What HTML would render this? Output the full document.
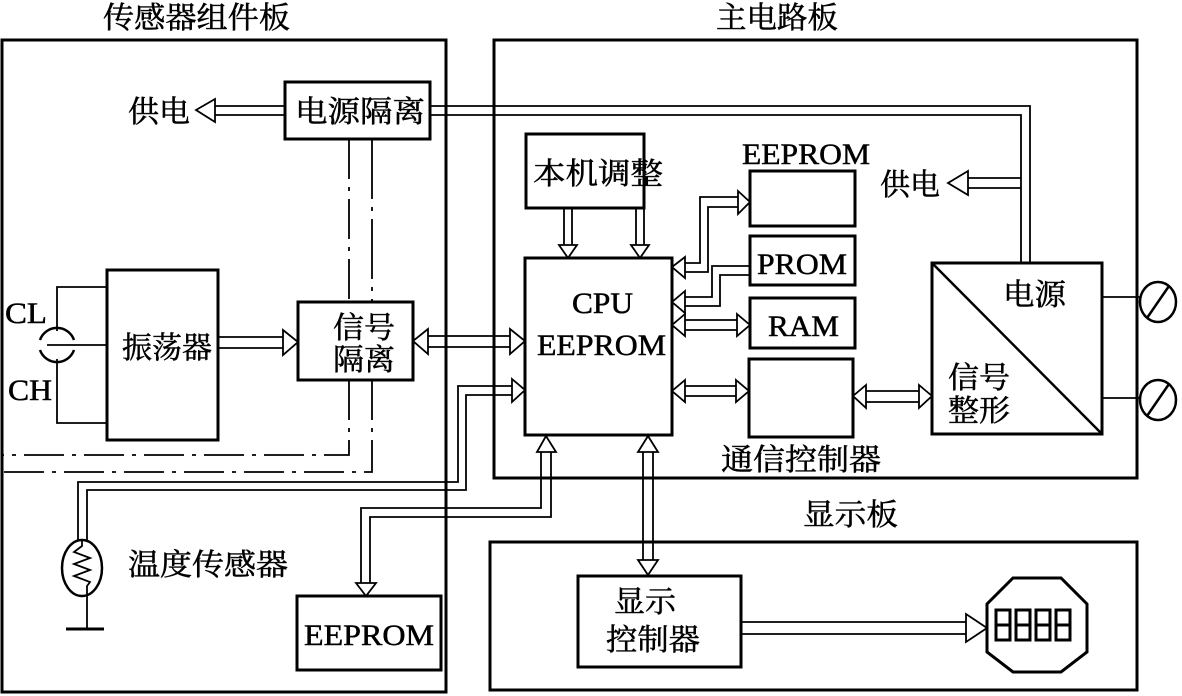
<!DOCTYPE html>
<html><head><meta charset="utf-8"><style>
html,body{margin:0;padding:0;background:#fff;}
svg{display:block;}
text{font-family:"Liberation Serif","Noto Serif CJK SC",serif;fill:#000;stroke:#000;stroke-width:0.5;}
</style></head><body>
<svg width="1182" height="696" viewBox="0 0 1182 696" xmlns="http://www.w3.org/2000/svg">
<g fill="none" stroke="#000">
<!-- panels -->
<rect x="2" y="40" width="444" height="652" stroke-width="3"/>
<rect x="494" y="40" width="643" height="438" stroke-width="3"/>
<rect x="490" y="542" width="647" height="148" stroke-width="3"/>
<g stroke-width="1.8">
<!-- dash-dot lines -->
<line x1="349" y1="139" x2="349" y2="302" stroke-dasharray="40,8,4,8"/>
<line x1="372" y1="139" x2="372" y2="302" stroke-dasharray="60,8,4,8"/>
<polyline points="349,380 349,455 2,455" stroke-dasharray="40,8,4,8"/>
<polyline points="372,380 372,472 2,472" stroke-dasharray="40,8,4,8"/>
</g>
<!-- boxes -->
<g fill="#fff">
<rect x="285" y="82" width="145" height="57" stroke-width="3"/>
<rect x="107" y="270" width="111" height="170" stroke-width="3"/>
<rect x="298" y="302" width="115" height="78" stroke-width="3"/>
<rect x="525" y="258" width="147" height="177" stroke-width="3"/>
<rect x="526" y="134" width="118" height="74" stroke-width="3"/>
<rect x="750" y="171" width="105" height="55" stroke-width="3"/>
<rect x="750" y="236" width="105" height="49" stroke-width="3"/>
<rect x="750" y="298" width="105" height="50" stroke-width="3"/>
<rect x="749" y="359" width="104" height="78" stroke-width="3"/>
<rect x="932" y="263" width="170" height="171" stroke-width="3"/>
<rect x="297" y="596" width="144" height="74" stroke-width="3"/>
<rect x="578" y="576" width="163" height="91" stroke-width="3"/>
</g>
<line x1="932" y1="263" x2="1102" y2="434" stroke-width="2.5"/>
<polygon points="1013,578 1061,578 1087,604 1087,652 1061,672 1013,672 987,652 987,604" stroke-width="3"/>
<g stroke-width="3">
<rect x="996" y="610" width="14" height="30"/><line x1="996" y1="625" x2="1010" y2="625"/>
<rect x="1016" y="610" width="14" height="30"/><line x1="1016" y1="625" x2="1030" y2="625"/>
<rect x="1036" y="610" width="14" height="30"/><line x1="1036" y1="625" x2="1050" y2="625"/>
<rect x="1056" y="610" width="14" height="30"/><line x1="1056" y1="625" x2="1070" y2="625"/>
</g>
<g stroke-width="1.8">
<line x1="285" y1="106" x2="215" y2="106"/><line x1="285" y1="115" x2="215" y2="115"/>
<polygon points="215,99 196,110 215,122" fill="#fff"/>
<polyline points="430,106 1030,106 1030,263"/>
<polyline points="430,115 1021,115 1021,263"/>
<line x1="1021" y1="178" x2="968" y2="178"/><line x1="1021" y1="188" x2="968" y2="188"/>
<polygon points="968,171 948,183 968,195" fill="#fff"/>
<line x1="218" y1="337" x2="283" y2="337"/><line x1="218" y1="348" x2="283" y2="348"/>
<polygon points="283,330 298,342 283,355" fill="#fff"/>
<line x1="428" y1="336" x2="510" y2="336"/><line x1="428" y1="347" x2="510" y2="347"/>
<polygon points="428,329 413,341 428,354" fill="#fff"/>
<polygon points="510,329 525,341 510,354" fill="#fff"/>
<polyline points="107,287 57,287 57,331"/>
<polyline points="107,423 57,423 57,359"/>
<line x1="47" y1="345" x2="107" y2="345"/>
<path d="M 40,340 A 18,18 0 0 1 74,340" stroke-width="2.5"/>
<path d="M 40,350 A 18,18 0 0 0 74,350" stroke-width="2.5"/>
<polyline points="78,541 78,482 458,482 458,386 512,386"/>
<polyline points="87,541 87,490 466,490 466,395 512,395"/>
<polygon points="512,379 525,390 512,402" fill="#fff"/>
<ellipse cx="82" cy="568" rx="20" ry="28" stroke-width="2.5"/>
<polyline points="82,541 82,546 74,552 90,558 74,564 90,570 74,576 90,582 87,586 87,628"/>
<line x1="66" y1="629" x2="104" y2="629" stroke-width="3"/>
<polyline points="541,452 541,508 361,508 361,583"/>
<polyline points="551,452 551,517 370,517 370,583"/>
<polygon points="356,583 366,596 376,583" fill="#fff"/>
<polygon points="537,452 546,436 556,452" fill="#fff"/>
<line x1="643" y1="452" x2="643" y2="560"/><line x1="653" y1="452" x2="653" y2="560"/>
<polygon points="638,452 648,436 658,452" fill="#fff"/>
<polygon points="638,560 648,575 658,560" fill="#fff"/>
<line x1="564" y1="208" x2="564" y2="245"/><line x1="572" y1="208" x2="572" y2="245"/>
<polygon points="559,245 568,258 577,245" fill="#fff"/>
<line x1="636" y1="208" x2="636" y2="245"/><line x1="644" y1="208" x2="644" y2="245"/>
<polygon points="631,245 640,258 649,245" fill="#fff"/>
<polyline points="738,197 700,197 700,263 685,263"/>
<polyline points="738,207 708,207 708,272 685,272"/>
<polygon points="738,191 750,202 738,214" fill="#fff"/>
<polygon points="685,257 672,267 685,278" fill="#fff"/>
<polyline points="750,266 712,266 712,297 685,297"/>
<polyline points="750,275 720,275 720,306 685,306"/>
<polygon points="685,291 672,302 685,313" fill="#fff"/>
<line x1="685" y1="320" x2="737" y2="320"/><line x1="685" y1="330" x2="737" y2="330"/>
<polygon points="685,314 672,325 685,336" fill="#fff"/>
<polygon points="737,314 750,325 737,336" fill="#fff"/>
<line x1="685" y1="386" x2="736" y2="386"/><line x1="685" y1="396" x2="736" y2="396"/>
<polygon points="685,380 672,391 685,402" fill="#fff"/>
<polygon points="736,380 749,391 736,402" fill="#fff"/>
<line x1="866" y1="391" x2="919" y2="391"/><line x1="866" y1="402" x2="919" y2="402"/>
<polygon points="866,385 853,396 866,408" fill="#fff"/>
<polygon points="919,385 932,396 919,408" fill="#fff"/>
<line x1="1102" y1="297" x2="1140" y2="297"/>
<line x1="1102" y1="398" x2="1140" y2="398"/>
<ellipse cx="1158" cy="302" rx="18" ry="20" stroke-width="2.5"/>
<line x1="1147" y1="318" x2="1169" y2="286" stroke-width="2.5"/>
<ellipse cx="1158" cy="400" rx="18" ry="20" stroke-width="2.5"/>
<line x1="1147" y1="416" x2="1169" y2="384" stroke-width="2.5"/>
<line x1="741" y1="622" x2="966" y2="622"/><line x1="741" y1="634" x2="966" y2="634"/>
<polygon points="966,614 987,628 966,642" fill="#fff"/>
</g>
</g>
<g font-size="30" lengthAdjust="spacingAndGlyphs">
<text x="103" y="28" textLength="187" lengthAdjust="spacingAndGlyphs">传感器组件板</text>
<text x="716" y="28" textLength="122" lengthAdjust="spacingAndGlyphs">主电路板</text>
<text x="803" y="525" textLength="95" lengthAdjust="spacingAndGlyphs">显示板</text>
<text x="128" y="122" textLength="62" lengthAdjust="spacingAndGlyphs">供电</text>
<text x="295" y="122" textLength="130" lengthAdjust="spacingAndGlyphs">电源隔离</text>
<text x="880" y="195" textLength="60" lengthAdjust="spacingAndGlyphs">供电</text>
<text x="122" y="358" textLength="90" lengthAdjust="spacingAndGlyphs">振荡器</text>
<text x="333" y="338" textLength="62" lengthAdjust="spacingAndGlyphs">信号</text>
<text x="333" y="370" textLength="62" lengthAdjust="spacingAndGlyphs">隔离</text>
<text x="533" y="184" textLength="130" lengthAdjust="spacingAndGlyphs">本机调整</text>
<text x="572" y="313" textLength="61" lengthAdjust="spacingAndGlyphs">CPU</text>
<text x="537" y="355" textLength="129" lengthAdjust="spacingAndGlyphs">EEPROM</text>
<text x="742" y="164" textLength="128" lengthAdjust="spacingAndGlyphs">EEPROM</text>
<text x="757" y="274" textLength="90" lengthAdjust="spacingAndGlyphs">PROM</text>
<text x="768" y="336" textLength="71" lengthAdjust="spacingAndGlyphs">RAM</text>
<text x="721" y="470" textLength="160" lengthAdjust="spacingAndGlyphs">通信控制器</text>
<text x="1003" y="305" textLength="63" lengthAdjust="spacingAndGlyphs">电源</text>
<text x="948" y="388" textLength="62" lengthAdjust="spacingAndGlyphs">信号</text>
<text x="948" y="421" textLength="62" lengthAdjust="spacingAndGlyphs">整形</text>
<text x="5" y="323" textLength="42" lengthAdjust="spacingAndGlyphs">CL</text>
<text x="8" y="400" textLength="44" lengthAdjust="spacingAndGlyphs">CH</text>
<text x="128" y="575" textLength="160" lengthAdjust="spacingAndGlyphs">温度传感器</text>
<text x="304" y="645" textLength="130" lengthAdjust="spacingAndGlyphs">EEPROM</text>
<text x="614" y="612" textLength="62" lengthAdjust="spacingAndGlyphs">显示</text>
<text x="606" y="650" textLength="94" lengthAdjust="spacingAndGlyphs">控制器</text>
</g>
</svg>
</body></html>
